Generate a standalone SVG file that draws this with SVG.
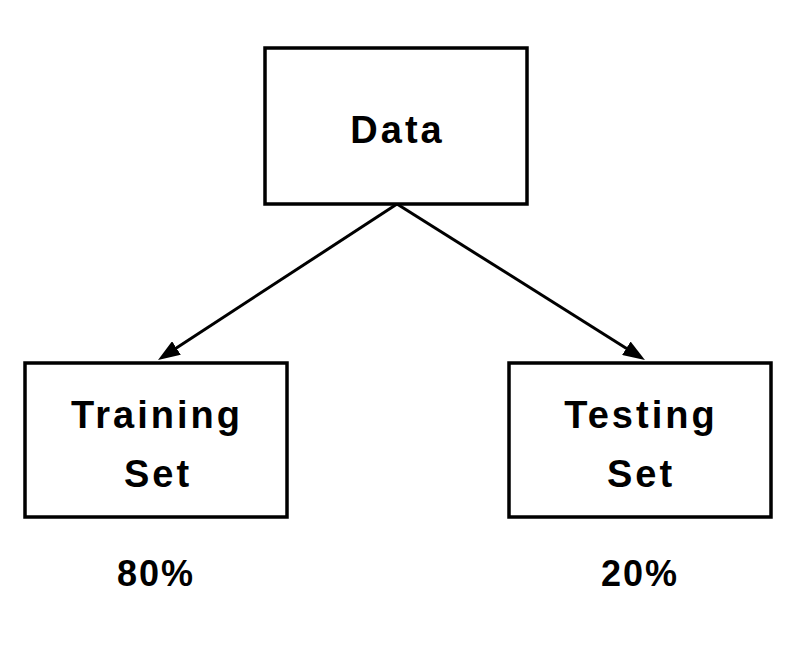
<svg xmlns="http://www.w3.org/2000/svg" width="802" height="646" viewBox="0 0 802 646">
  <style>
    .box { fill: #ffffff; stroke: #000000; stroke-width: 3.5; }
    .lbl { font-family: "Liberation Sans", Arial, sans-serif; font-weight: bold; font-size: 38px; letter-spacing: 3px; fill: #000000; text-anchor: middle; }
    .pct { font-family: "Liberation Sans", Arial, sans-serif; font-weight: bold; font-size: 36px; letter-spacing: 2px; fill: #000000; text-anchor: middle; }
    .edge { stroke: #000000; stroke-width: 3; fill: none; }
  </style>
  <defs>
    <marker id="arrow" viewBox="0 0 22 16" refX="12" refY="8" markerWidth="22" markerHeight="16" markerUnits="userSpaceOnUse" orient="auto">
      <path d="M0,0 L22,8 L0,16 z" fill="#000000"/>
    </marker>
  </defs>
  <rect width="802" height="646" fill="#ffffff"/>
  <g id="connectors">
    <line class="edge" x1="397" y1="204" x2="166.4" y2="354.5" marker-end="url(#arrow)"/>
    <line class="edge" x1="397" y1="204" x2="636.5" y2="354.7" marker-end="url(#arrow)"/>
  </g>
  <g id="node-data">
    <rect class="box" x="265" y="48" width="262" height="156"/>
    <text class="lbl" x="397.5" y="143">Data</text>
  </g>
  <g id="node-training">
    <rect class="box" x="25" y="363" width="262" height="154"/>
    <text class="lbl" x="157" y="428">Training</text>
    <text class="lbl" x="158" y="487">Set</text>
  </g>
  <g id="node-testing">
    <rect class="box" x="509" y="363" width="262" height="154"/>
    <text class="lbl" x="641" y="428">Testing</text>
    <text class="lbl" x="641" y="487">Set</text>
  </g>
  <g id="label-80">
    <text class="pct" x="156" y="586">80%</text>
  </g>
  <g id="label-20">
    <text class="pct" x="640" y="586">20%</text>
  </g>
</svg>
